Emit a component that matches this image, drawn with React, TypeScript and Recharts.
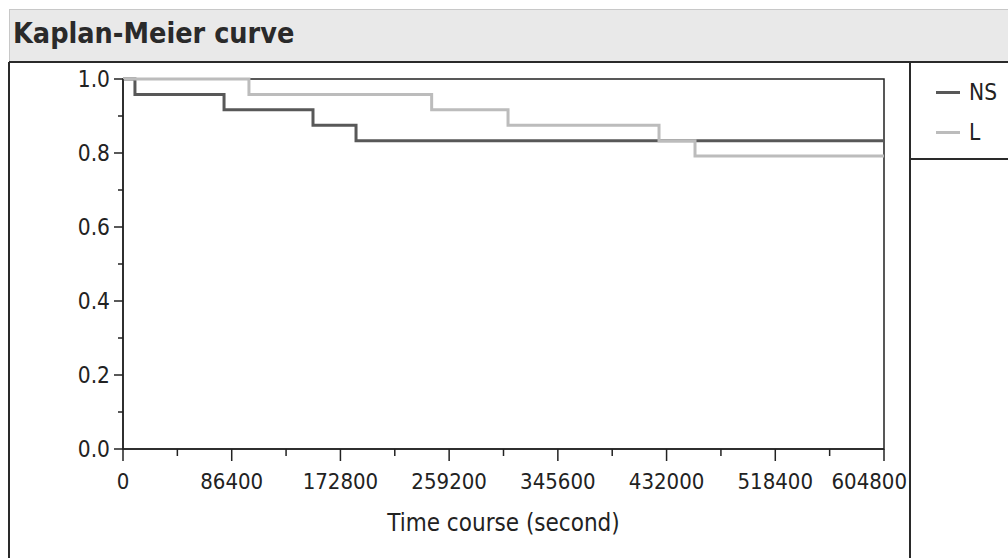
import React from 'react';
import { LineChart, Line, XAxis, YAxis, ReferenceArea } from 'recharts';

// Survival data (time in seconds, survival probability)
const nsTimes = [0, 9500, 80300, 151000, 185200, 604800];
const nsSurvival = [1.0, 0.958, 0.917, 0.875, 0.833, 0.833];

const lTimes = [0, 100100, 245300, 306000, 426000, 454600, 604800];
const lSurvival = [1.0, 0.958, 0.917, 0.875, 0.833, 0.792, 0.792];

const xTicks = [0, 43200, 86400, 129600, 172800, 216000, 259200, 302400, 345600, 388800, 432000, 475200, 518400, 561600, 604800];
const yTicks = [0, 0.1, 0.2, 0.3, 0.4, 0.5, 0.6, 0.7, 0.8, 0.9, 1.0];

const nsData = nsTimes.map((t, i) => ({ t, s: nsSurvival[i] }));
const lData = lTimes.map((t, i) => ({ t, s: lSurvival[i] }));

const series = [
  { name: 'NS', data: nsData, color: '#585858' },
  { name: 'L', data: lData, color: '#bcbcbc' },
];

const FONT = '"DejaVu Sans Condensed", "DejaVu Sans", sans-serif';
const X_MAX = 604800;

// x ticks: major every 86400 with label, minor in between
const XTick = (props: any) => {
  const { x, y, payload } = props;
  const major = Math.round(payload.value / 43200) % 2 === 0;
  const last = payload.value === X_MAX;
  return (
    <g>
      <line x1={x} x2={x} y1={y} y2={y + (major ? 12 : 7)} stroke="#222" strokeWidth={1.5} />
      {major && (
        <text
          x={last ? x + 23 : x}
          y={y + 40}
          textAnchor={last ? 'end' : 'middle'}
          fontSize={22}
          fill="#222"
          fontFamily={FONT}
        >
          {payload.value}
        </text>
      )}
    </g>
  );
};

const YTick = (props: any) => {
  const { x, y, payload } = props;
  const major = Math.round(payload.value * 10) % 2 === 0;
  return (
    <g>
      <line x1={x} x2={x - (major ? 9 : 5)} y1={y} y2={y} stroke="#222" strokeWidth={1.5} />
      {major && (
        <text x={x - 13} y={y + 8} textAnchor="end" fontSize={22.5} fill="#222" fontFamily={FONT}>
          {payload.value.toFixed(1)}
        </text>
      )}
    </g>
  );
};

export default function App() {
  return (
    <div style={{ position: 'fixed', left: 0, top: 0, width: 1008, height: 558, background: '#fff', overflow: 'hidden' }}>
      {/* title bar */}
      <div
        style={{
          position: 'absolute', left: 9, top: 9, width: 999, height: 52,
          background: '#e9e9e9', borderTop: '1px solid #c8c8c8', borderLeft: '1px solid #c8c8c8',
          boxSizing: 'border-box',
        }}
      >
        <div style={{ position: 'absolute', left: 3, top: 7, fontFamily: FONT, fontWeight: 'bold', fontSize: 28.5, color: '#2a2a2a' }}>
          Kaplan-Meier curve
        </div>
      </div>
      <div style={{ position: 'absolute', left: 9, top: 61, width: 999, height: 2, background: '#2a2a2a' }} />
      <div style={{ position: 'absolute', left: 8, top: 62, width: 2, height: 496, background: '#2a2a2a' }} />
      <div style={{ position: 'absolute', left: 909, top: 62, width: 2, height: 496, background: '#2a2a2a' }} />
      <div style={{ position: 'absolute', left: 910, top: 158, width: 98, height: 2, background: '#2a2a2a' }} />

      {/* legend */}
      <div style={{ position: 'absolute', left: 936, top: 72 }}>
        {series.map((s) => (
          <div key={s.name} style={{ display: 'flex', alignItems: 'center', height: 40, fontFamily: FONT, fontSize: 22.5, color: '#222' }}>
            <span style={{ display: 'inline-block', width: 24, height: 3, background: s.color, marginRight: 9 }} />
            {s.name}
          </div>
        ))}
      </div>

      <div style={{ position: 'absolute', left: 0, top: 0 }}>
        <LineChart width={1008} height={558} margin={{ top: 79, right: 124, bottom: 27, left: 73 }}>
          <XAxis
            dataKey="t"
            type="number"
            domain={[0, X_MAX]}
            ticks={xTicks}
            interval={0}
            tick={<XTick />}
            tickSize={0}
            tickMargin={0}
            tickLine={false}
            axisLine={{ stroke: '#222', strokeWidth: 1.5 }}
            height={82}
            allowDuplicatedCategory={false}
            label={{ value: 'Time course (second)', position: 'insideBottom', offset: 0, fontSize: 24, fill: '#222', fontFamily: FONT }}
          />
          <YAxis
            dataKey="s"
            type="number"
            domain={[0, 1]}
            ticks={yTicks}
            interval={0}
            tick={<YTick />}
            tickSize={0}
            tickMargin={0}
            tickLine={false}
            axisLine={{ stroke: '#222', strokeWidth: 1.5 }}
            width={50}
          />
          <ReferenceArea x1={0} x2={X_MAX} y1={0} y2={1} fill="none" stroke="#222" strokeWidth={1.5} />
          {series.map((s) => (
            <Line
              key={s.name}
              data={s.data}
              dataKey="s"
              name={s.name}
              type="stepAfter"
              stroke={s.color}
              strokeWidth={3}
              dot={false}
              isAnimationActive={false}
            />
          ))}
        </LineChart>
      </div>
    </div>
  );
}
